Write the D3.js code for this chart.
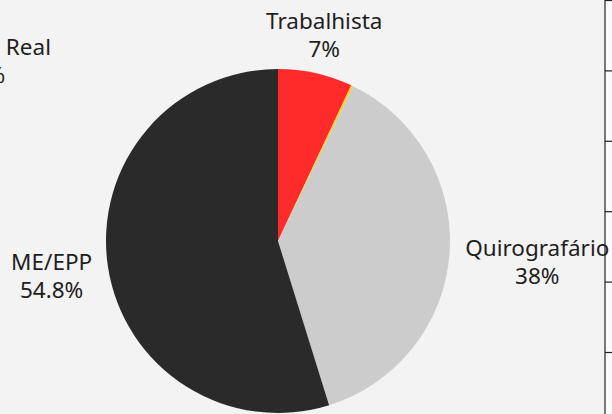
<!DOCTYPE html>
<html lang="pt">
<head>
<meta charset="UTF-8">
<title>Classes de credores</title>
<script src="https://d3js.org/d3.v7.min.js"></script>
<style>
  body { margin: 0; background: #f3f3f3; }
  svg { display: block; font-family: "Noto Sans", "Open Sans", sans-serif; }
</style>
</head>
<body>
<svg id="chart" width="612" height="414"></svg>
<script>
// dados
const classes = ["Trabalhista", "Garantia Real", "Quirografário", "ME/EPP"];
const valores = [7, 0.2, 38, 54.8];
const rotulos = ["7%", "0.2%", "38%", "54.8%"];
const cores = ["#ff2a2a", "#ffd21f", "#cccccc", "#2a2a2a"];

const W = 612, H = 414;
const cx = 278, cy = 241, r = 172;

const svg = d3.select("#chart");
svg.append("rect").attr("width", W).attr("height", H).attr("fill", "#f3f3f3");

// eixo do gráfico vizinho, cortado na borda direita
const ax = 605;
svg.append("rect").attr("x", ax).attr("y", 0).attr("width", W - ax).attr("height", H).attr("fill", "#fbfbfb");
const yNeighbor = d3.scaleLinear().domain([0, 5]).range([352, 0]);
svg.append("g")
  .attr("transform", `translate(${ax},0)`)
  .call(d3.axisRight(yNeighbor).ticks(5).tickSize(8).tickFormat(""))
  .call(g => g.select(".domain").attr("d", `M0,0V${H}`))
  .selectAll("line, path").attr("stroke", "#222").attr("stroke-width", 1.2);

const data = classes.map((c, i) => ({ classe: c, valor: valores[i], rotulo: rotulos[i], cor: cores[i] }));

const pie = d3.pie().sort(null).value(d => d.valor);
const arc = d3.arc().innerRadius(0).outerRadius(r);
const arcs = pie(data);

const g = svg.append("g").attr("transform", `translate(${cx},${cy})`);
g.selectAll("path.fatia")
  .data(arcs)
  .enter().append("path")
  .attr("class", "fatia")
  .attr("d", arc)
  .attr("fill", d => d.data.cor);

// rótulos fora da pizza (raio de cada rótulo ajustado ao original)
const raioRotulo = [212, 0, 260, 229];
const lineH = 28;
arcs.forEach((a, i) => {
  let x, y;
  if (i === 1) {
    // a fatia minúscula tem o rótulo deslocado para o canto superior esquerdo
    x = -20 - cx; y = 60 - cy;
  } else {
    const m = (a.startAngle + a.endAngle) / 2;
    x = raioRotulo[i] * Math.sin(m);
    y = -raioRotulo[i] * Math.cos(m);
  }
  const t = g.append("text")
    .attr("x", x).attr("y", y)
    .attr("text-anchor", "middle")
    .attr("fill", "#1e1e1e")
    .style("font-size", "22.5px");
  t.append("tspan").attr("x", x).attr("dy", -5).text(a.data.classe);
  t.append("tspan").attr("x", x).attr("dy", lineH).text(a.data.rotulo);
});
</script>
</body>
</html>
